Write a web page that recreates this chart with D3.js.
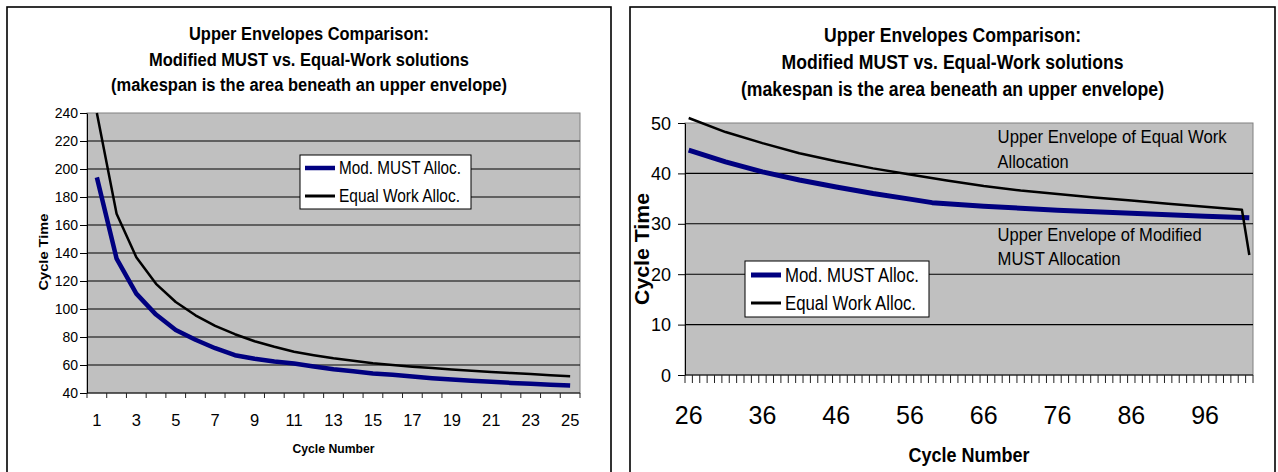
<!DOCTYPE html>
<html><head><meta charset="utf-8">
<script src="https://cdn.jsdelivr.net/npm/d3@7"></script>
<style>
html,body{margin:0;padding:0;background:#fff;}
svg{display:block;}
</style></head>
<body>
<svg id="c" width="1278" height="472"></svg>
<script>
// ---------- data ----------
const titleLines = ["Upper Envelopes Comparison:", "Modified MUST vs. Equal-Work solutions", "(makespan is the area beneath an upper envelope)"];
const seriesNames = ["Mod. MUST Alloc.", "Equal Work Alloc."];

// left chart: cycles 1..25
const leftCycles = [1,2,3,4,5,6,7,8,9,10,11,12,13,14,15,16,17,18,19,20,21,22,23,24,25];
const leftMust  = [194,136,111,96,85,78,72,67,64.5,62.5,61,59,57,55.5,54,53,51.8,50.6,49.6,48.8,48,47.2,46.6,45.9,45.3];
const leftEqual = [240,168,137,118,105,95.5,88,82,77,73,69.5,67,64.8,63,61.3,60,58.8,57.8,56.8,55.9,55,54.2,53.5,52.7,52];
const leftXTickLabels = [1,3,5,7,9,11,13,15,17,19,21,23,25];
const leftYTicks = [40,60,80,100,120,140,160,180,200,220,240];

// right chart: cycles 26..102 (category axis), values read at sampled cycles
const rightCycles = d3.range(26, 103);
const rightSampleCycles = [26,31,36,41,46,51,56,59,61,66,71,76,81,86,91,96,101,102];
const rightMust  = [44.6,42.3,40.3,38.7,37.3,36.0,34.9,34.2,34.0,33.5,33.1,32.7,32.4,32.1,31.8,31.5,31.25,31.2];
const rightEqualCycles = [26,31,36,41,46,51,56,61,66,71,76,81,86,91,96,101,102];
const rightEqual = [51,48.2,46,44,42.4,41.0,39.8,38.6,37.5,36.6,35.9,35.2,34.6,34.0,33.4,32.8,23.8];
const rightXTickLabels = [26,36,46,56,66,76,86,96];
const rightYTicks = [0,10,20,30,40,50];
const annotations = [["Upper Envelope of Equal Work","Allocation"],["Upper Envelope of Modified","MUST Allocation"]];

// ---------- helpers ----------
const svg = d3.select("#c");
const NARROW = "'Liberation Sans Narrow','Arial Narrow',sans-serif";
const REG = "'Liberation Sans',Arial,sans-serif";
function measure(fam, str){
  const t = svg.append("text").attr("font-family", fam).attr("font-size", 100).text(str);
  const w = t.node().getComputedTextLength(); t.remove(); return w;
}
const narrowAvail = Math.abs(measure("'Liberation Sans Narrow'", "Mod 1234") - measure("'Liberation Sans'", "Mod 1234")) > 1;
const nf = narrowAvail ? 1 : 0.82;
function narrowFit(sel){
  sel.each(function(){
    if(nf < 1){ const w = this.getComputedTextLength(); d3.select(this).attr("textLength", w*nf).attr("lengthAdjust","spacingAndGlyphs"); }
  });
}
function fitW(sel, w){ sel.attr("textLength", w).attr("lengthAdjust","spacingAndGlyphs"); return sel; }

const NAVY = "#000080";

function panel(cfg){
  const g = svg.append("g");
  // frame
  g.append("rect").attr("x", cfg.frame[0]).attr("y", cfg.frame[1]).attr("width", cfg.frame[2]-cfg.frame[0]).attr("height", 480)
    .attr("fill","#fff").attr("stroke","#000").attr("stroke-width",1.6);
  // title
  titleLines.forEach((s,i)=>{
    fitW(g.append("text").attr("x", cfg.titleX).attr("y", cfg.titleY[i]).attr("text-anchor","middle")
      .attr("font-family", NARROW).attr("font-weight","bold").attr("font-size", cfg.titleSize).text(s), cfg.titleW[i]);
  });
  const [L,T,R,B] = cfg.plot;
  const x = d3.scaleBand().domain(cfg.cycles).range([L,R]).paddingInner(0).paddingOuter(0);
  const y = d3.scaleLinear().domain(cfg.yDomain).range([B,T]);
  const cx = c => x(c) + x.bandwidth()/2;
  // plot area
  g.append("rect").attr("x",L).attr("y",T).attr("width",R-L).attr("height",B-T).attr("fill","#c0c0c0").attr("stroke","#808080").attr("stroke-width",1);
  // gridlines
  g.append("g").selectAll("line").data(cfg.yTicks.filter(v=>v!==cfg.yDomain[0] && v!==cfg.yDomain[1])).join("line")
    .attr("x1",L).attr("x2",R).attr("y1",d=>y(d)).attr("y2",d=>y(d)).attr("stroke","#000").attr("stroke-width",1.1);
  // y axis
  const ya = g.append("g").attr("transform",`translate(${L},0)`).call(d3.axisLeft(y).tickValues(cfg.yTicks).tickSize(cfg.yTickLen).tickPadding(cfg.yPad).tickSizeOuter(0));
  ya.select(".domain").attr("stroke","#000");
  ya.selectAll(".tick line").attr("stroke","#000");
  ya.selectAll("text").attr("font-family",NARROW).attr("font-size",cfg.yFont).attr("fill","#000").attr("dy", cfg.yDy);
  narrowFit(ya.selectAll("text"));
  // x axis line and ticks at category boundaries
  const n = cfg.cycles.length, bw = x.bandwidth();
  g.append("line").attr("x1",L).attr("x2",R).attr("y1",B).attr("y2",B).attr("stroke","#000").attr("stroke-width",1.2);
  g.append("g").selectAll("line").data(d3.range(n+1)).join("line")
    .attr("x1",i=>L+i*bw).attr("x2",i=>L+i*bw).attr("y1",B).attr("y2",B+cfg.xTickLen).attr("stroke","#222").attr("stroke-width",1);
  const xl = g.append("g").selectAll("text").data(cfg.xLabels).join("text")
    .attr("x",d=>cx(d)).attr("y",cfg.xLabelY).attr("text-anchor","middle").attr("font-family",NARROW).attr("font-size",cfg.xFont).text(d=>d);
  narrowFit(xl);
  // axis titles
  fitW(g.append("text").attr("x",(L+R)/2).attr("y",cfg.xTitleY).attr("text-anchor","middle").attr("font-family",NARROW).attr("font-weight","bold").attr("font-size",cfg.xTitleSize).text("Cycle Number"), cfg.xTitleW);
  fitW(g.append("text").attr("transform",`translate(${cfg.yTitle[0]},${cfg.yTitle[1]}) rotate(-90)`).attr("text-anchor","middle").attr("font-family",REG).attr("font-weight","bold").attr("font-size",cfg.yTitleSize).text("Cycle Time"), cfg.yTitleW);
  // lines
  const line = d3.line().x(d=>cx(d[0])).y(d=>y(d[1]));
  g.append("path").datum(d3.zip(cfg.mustX, cfg.must)).attr("d",line).attr("fill","none").attr("stroke",NAVY).attr("stroke-width",cfg.mustW).attr("stroke-linejoin","round");
  g.append("path").datum(d3.zip(cfg.eqX, cfg.eq)).attr("d",line).attr("fill","none").attr("stroke","#000").attr("stroke-width",cfg.eqW).attr("stroke-linejoin","round");
  // legend
  const lg = cfg.legend;
  g.append("rect").attr("x",lg.box[0]).attr("y",lg.box[1]).attr("width",lg.box[2]-lg.box[0]).attr("height",lg.box[3]-lg.box[1]).attr("fill","#fff").attr("stroke","#000").attr("stroke-width",1);
  seriesNames.forEach((s,i)=>{
    g.append("line").attr("x1",lg.lx[0]).attr("x2",lg.lx[1]).attr("y1",lg.ys[i]).attr("y2",lg.ys[i]).attr("stroke",i===0?NAVY:"#000").attr("stroke-width",i===0?cfg.mustW:cfg.eqW+0.5);
    fitW(g.append("text").attr("x",lg.tx).attr("y",lg.ys[i]+lg.font*0.36).attr("font-family",NARROW).attr("font-size",lg.font).text(s), lg.tw[i]);
  });
  return g;
}

panel({
  frame:[7,7,611], titleX:309, titleY:[40,65.5,90.5], titleSize:18, titleW:[240,320,396],
  plot:[87,113,580,393], cycles:leftCycles, yDomain:[40,240], yTicks:leftYTicks,
  yTickLen:7, yPad:2, yFont:14, yDy:"0.34em", xTickLen:5, xLabels:leftXTickLabels, xLabelY:426, xFont:16.5,
  xTitleY:452.5, xTitleSize:13, xTitleW:82, yTitle:[48,252], yTitleSize:12.5, yTitleW:77,
  mustX:leftCycles, must:leftMust, eqX:leftCycles, eq:leftEqual, mustW:4.5, eqW:2.5,
  legend:{box:[300,155,471,209], lx:[305,335], ys:[168,196], tx:339, font:18, tw:[122,121]}
});

const rg = panel({
  frame:[630,7,1275], titleX:952.5, titleY:[42,69,96], titleSize:19.5, titleW:[257,342,423],
  plot:[685,123,1253,375], cycles:rightCycles, yDomain:[0,50], yTicks:rightYTicks,
  yTickLen:7, yPad:7, yFont:18, yDy:"0.34em", xTickLen:8, xLabels:rightXTickLabels, xLabelY:424, xFont:25,
  xTitleY:462, xTitleSize:20, xTitleW:121, yTitle:[649,249], yTitleSize:21, yTitleW:112,
  mustX:rightSampleCycles, must:rightMust, eqX:rightEqualCycles, eq:rightEqual, mustW:5, eqW:2.5,
  legend:{box:[745,261,929,317], lx:[751,781], ys:[275,303], tx:785, font:20, tw:[134,131]}
});
// annotations on right chart
const annY = [[143,168],[241,265]];
const annW = [[229,71],[204,123]];
annotations.forEach((a,i)=>a.forEach((s,j)=>{
  fitW(rg.append("text").attr("x",997.6).attr("y",annY[i][j]).attr("font-family",NARROW).attr("font-size",19).text(s), annW[i][j]);
}));
</script>
</body></html>
